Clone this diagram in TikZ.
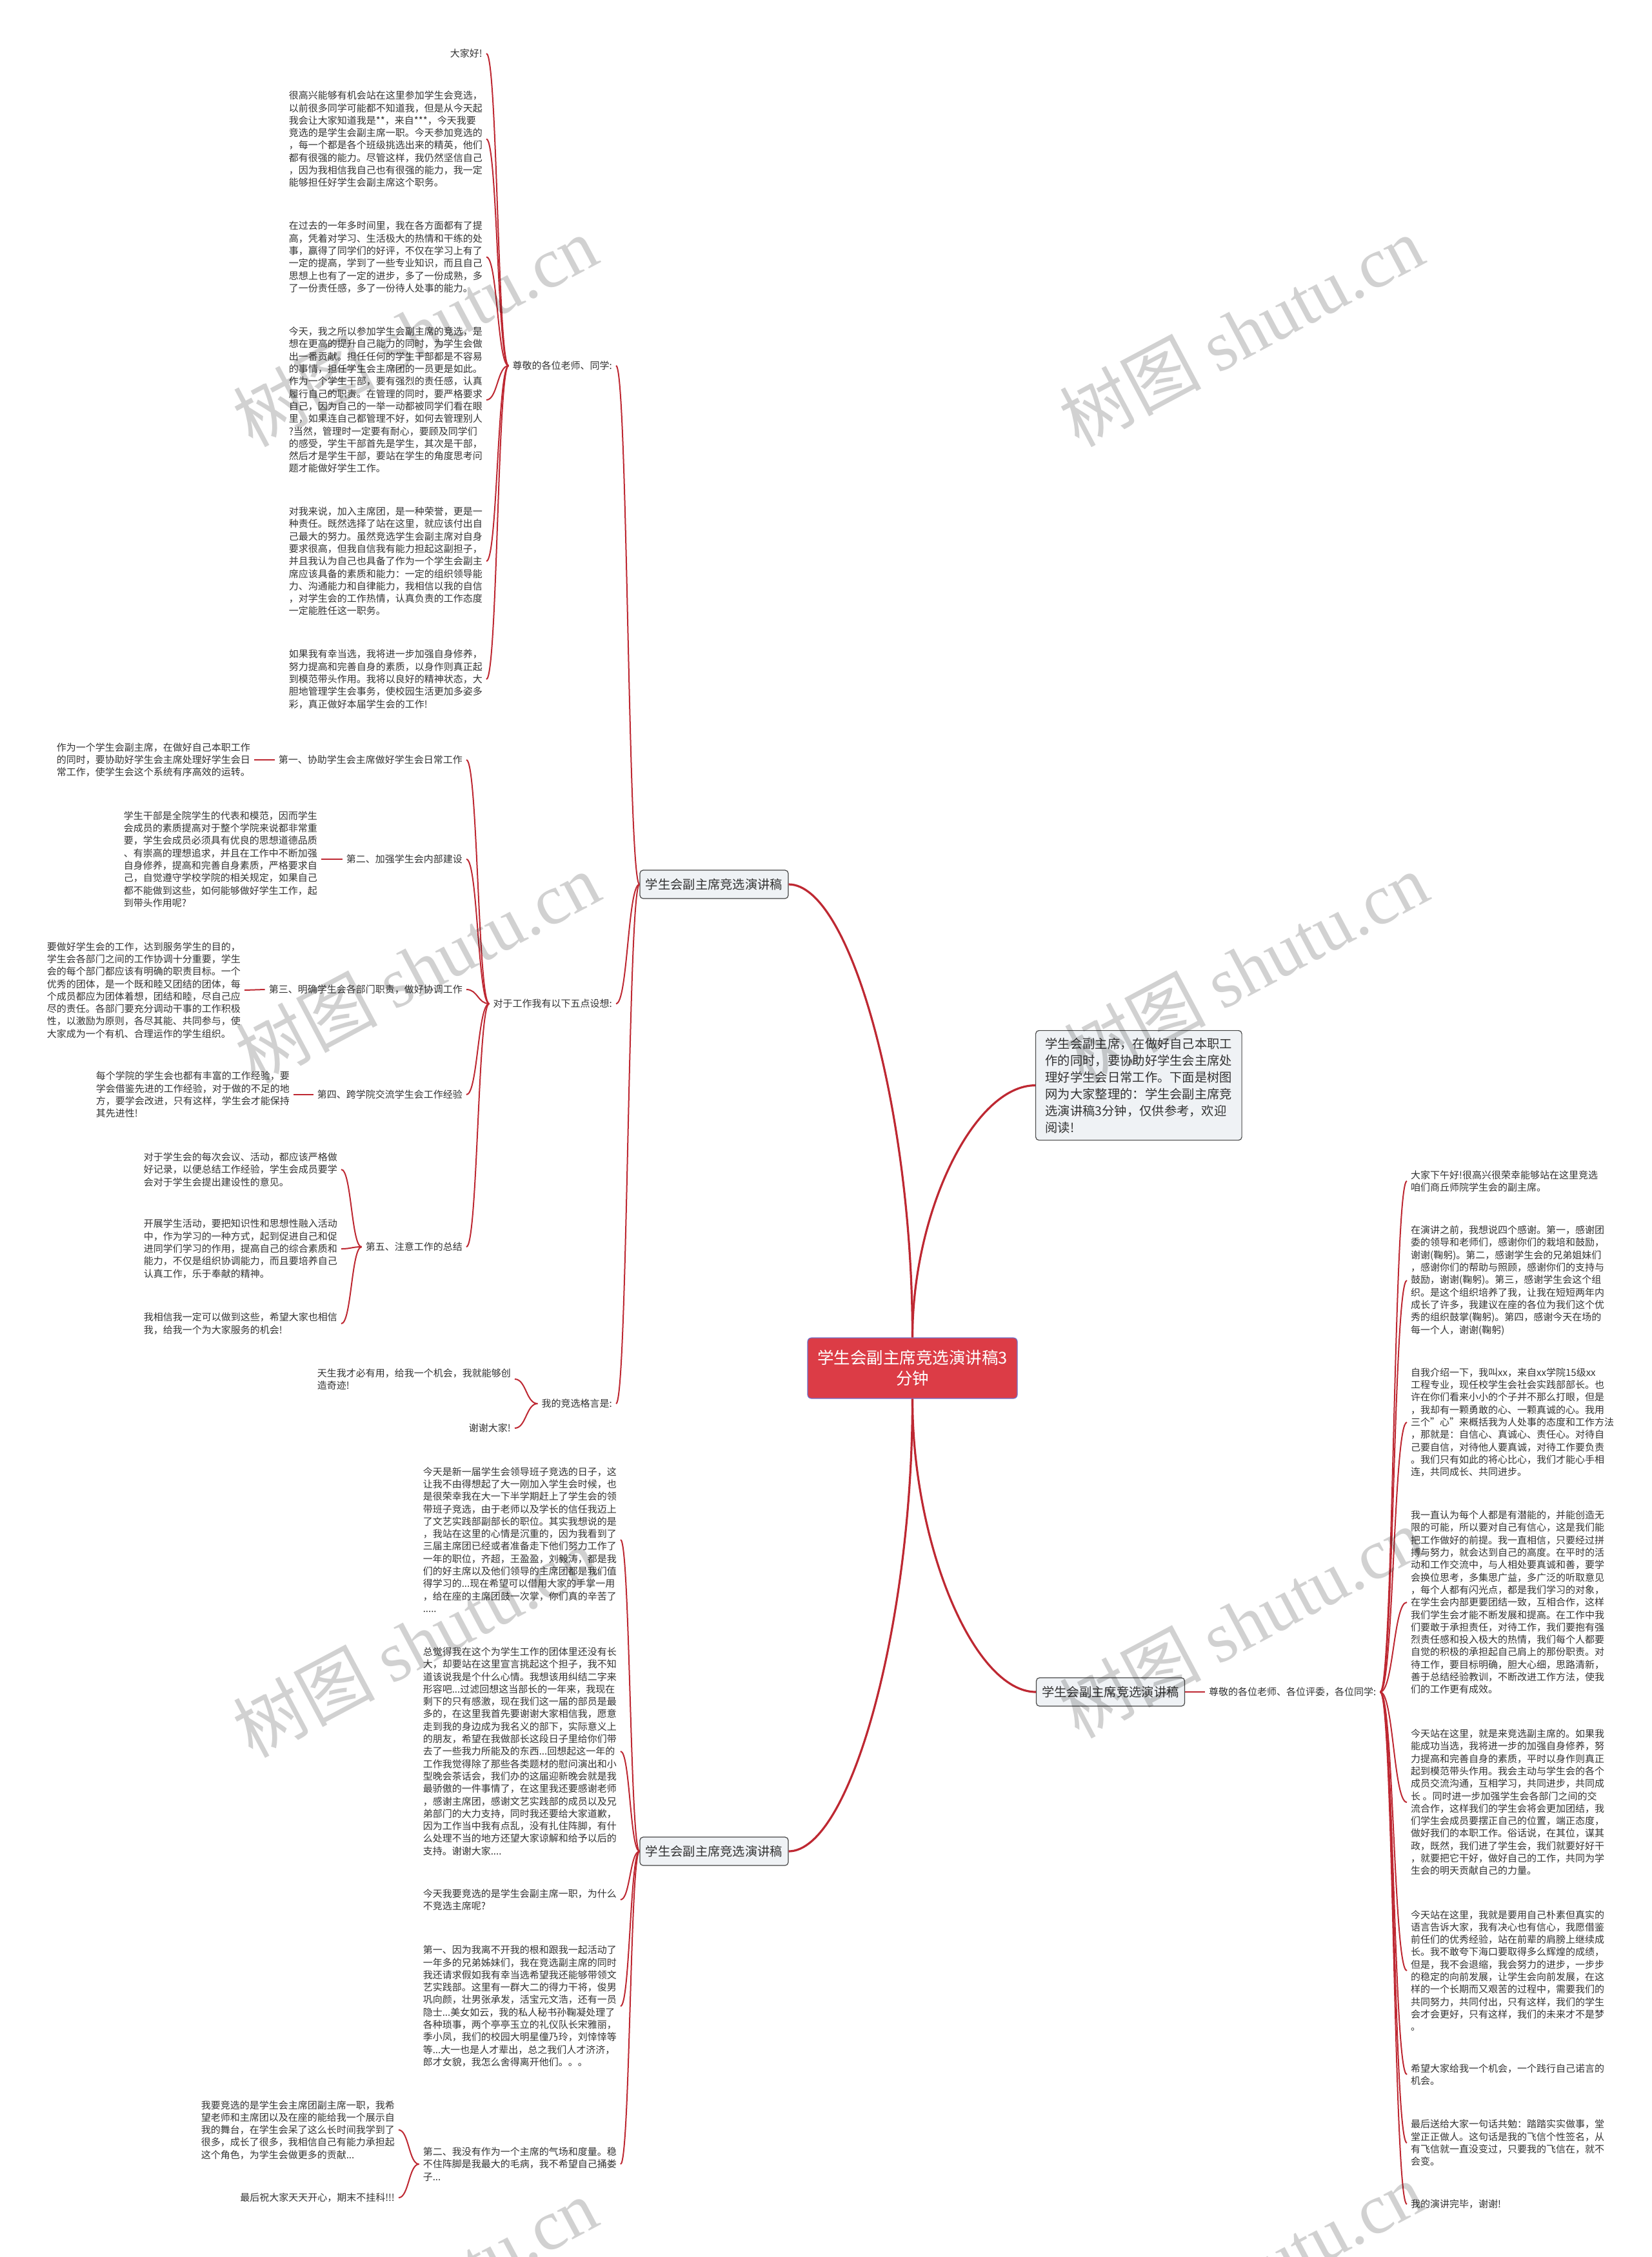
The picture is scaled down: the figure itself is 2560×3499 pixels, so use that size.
\documentclass[tikz,border=0pt]{standalone}
\usepackage{fontspec}
\setmainfont{Noto Sans CJK SC}
\newfontfamily\wmserif{Liberation Serif}
\usetikzlibrary{calc}
\definecolor{ink}{HTML}{333333}
\definecolor{lnk}{HTML}{BE2832}
\definecolor{rootred}{HTML}{DC3C46}
\definecolor{rootrim}{HTML}{6E6EC8}
\definecolor{boxbg}{HTML}{EFF2F5}
\definecolor{boxrim}{HTML}{474747}

\begin{document}
\begin{tikzpicture}[x=1pt, y=-1pt,
  tx/.style={font=\fontsize{15}{19.3}\selectfont, text=ink, align=left, inner xsep=6pt, inner ysep=2pt},
  tl/.style={tx, anchor=east},
  tr/.style={tx, anchor=west},
  bx/.style={draw=boxrim, fill=boxbg, rounded corners=5pt, line width=1.2pt, text=ink},
  br/.style={bx, font=\fontsize{19.3}{24}\selectfont, minimum width=230pt, minimum height=44pt},
  mm/.style={to path={let \p1=(\tikztostart), \p2=(\tikztotarget) in
    .. controls ({(\x1+\x2)/2},\y1) and ({(\x1+\x2)/2},\y2) .. (\tikztotarget)}},
  rt/.style={to path={let \p1=(\tikztostart), \p2=(\tikztotarget) in
    .. controls (\x1,{(\y1+\y2)/2}) and ({(\x1+\x2)/2},\y2) .. (\tikztotarget)}},
  e/.style={draw=lnk, line width=2pt, mm},
  er/.style={draw=lnk, line width=3.2pt, rt},
  wm/.style={font=\fontsize{110}{110}\selectfont, text=black, opacity=0.18, rotate=28}]
\useasboundingbox (0,0) rectangle (2560,3499);
\fill[white] (0,0) rectangle (2560,3499);

% centre
\node[draw=rootrim, fill=rootred, rounded corners=6pt, line width=1.2pt, text=white, align=center,
  font=\fontsize{25.5}{32}\selectfont, minimum width=325pt, minimum height=94pt, inner sep=0pt]
  (root) at (1414.5,2121) {学生会副主席竞选演讲稿3\\分钟};
\node[bx, anchor=north west, align=left, font=\fontsize{19.3}{26}\selectfont, inner xsep=15pt, inner ysep=11pt]
  (intro) at (1605,1597) {学生会副主席，在做好自己本职工\\作的同时，要协助好学生会主席处\\理好学生会日常工作。下面是树图\\网为大家整理的：学生会副主席竞\\选演讲稿3分钟，仅供参考，欢迎\\阅读!};
\node[br] (b1) at (1107,1371) {学生会副主席竞选演讲稿};
\node[br] (b3) at (1107,2870) {学生会副主席竞选演讲稿};
\node[br] (b2) at (1721.5,2623) {学生会副主席竞选演讲稿};

% upper left branch
\node[tl] (p1) at (955,567) {尊敬的各位老师、同学:};
\node[tl] (p2) at (955,1556) {对于工作我有以下五点设想:};
\node[tl] (p3) at (955,2176) {我的竞选格言是:};

\node[tl] (t1) at (754,83) {大家好!};
\node[tl] (t2) at (754,215.5) {很高兴能够有机会站在这里参加学生会竞选，\\以前很多同学可能都不知道我，但是从今天起\\我会让大家知道我是**，来自***，今天我要\\竞选的是学生会副主席一职。今天参加竞选的\\，每一个都是各个班级挑选出来的精英，他们\\都有很强的能力。尽管这样，我仍然坚信自己\\，因为我相信我自己也有很强的能力，我一定\\能够担任好学生会副主席这个职务。};
\node[tl] (t3) at (754,398.5) {在过去的一年多时间里，我在各方面都有了提\\高，凭着对学习、生活极大的热情和干练的处\\事，赢得了同学们的好评，不仅在学习上有了\\一定的提高，学到了一些专业知识，而且自己\\思想上也有了一定的进步，多了一份成熟，多\\了一份责任感，多了一份待人处事的能力。};
\node[tl] (t4) at (754,620) {今天，我之所以参加学生会副主席的竞选，是\\想在更高的提升自己能力的同时，为学生会做\\出一番贡献。担任任何的学生干部都是不容易\\的事情，担任学生会主席团的一员更是如此。\\作为一个学生干部，要有强烈的责任感，认真\\履行自己的职责。在管理的同时，要严格要求\\自己，因为自己的一举一动都被同学们看在眼\\里，如果连自己都管理不好，如何去管理别人\\?当然，管理时一定要有耐心，要顾及同学们\\的感受，学生干部首先是学生，其次是干部，\\然后才是学生干部，要站在学生的角度思考问\\题才能做好学生工作。};
\node[tl] (t5) at (754,870) {对我来说，加入主席团，是一种荣誉，更是一\\种责任。既然选择了站在这里，就应该付出自\\己最大的努力。虽然竞选学生会副主席对自身\\要求很高，但我自信我有能力担起这副担子，\\并且我认为自己也具备了作为一个学生会副主\\席应该具备的素质和能力：一定的组织领导能\\力、沟通能力和自律能力，我相信以我的自信\\，对学生会的工作热情，认真负责的工作态度\\一定能胜任这一职务。};
\node[tl] (t6) at (754,1053) {如果我有幸当选，我将进一步加强自身修养，\\努力提高和完善自身的素质，以身作则真正起\\到模范带头作用。我将以良好的精神状态，大\\胆地管理学生会事务，使校园生活更加多姿多\\彩，真正做好本届学生会的工作!};

\node[tl] (s1) at (723,1178) {第一、协助学生会主席做好学生会日常工作};
\node[tl] (s2) at (723,1332) {第二、加强学生会内部建设};
\node[tl] (s3) at (723,1534) {第三、明确学生会各部门职责，做好协调工作};
\node[tl] (s4) at (723,1697) {第四、跨学院交流学生会工作经验};
\node[tl] (s5) at (723,1933) {第五、注意工作的总结};

\node[tl] (q1) at (394,1178) {作为一个学生会副主席，在做好自己本职工作\\的同时，要协助好学生会主席处理好学生会日\\常工作，使学生会这个系统有序高效的运转。};
\node[tl] (q2) at (498,1332) {学生干部是全院学生的代表和模范，因而学生\\会成员的素质提高对于整个学院来说都非常重\\要，学生会成员必须具有优良的思想道德品质\\、有崇高的理想追求，并且在工作中不断加强\\自身修养，提高和完善自身素质，严格要求自\\己，自觉遵守学校学院的相关规定，如果自己\\都不能做到这些，如何能够做好学生工作，起\\到带头作用呢?};
\node[tl] (q3) at (379,1535) {要做好学生会的工作，达到服务学生的目的，\\学生会各部门之间的工作协调十分重要，学生\\会的每个部门都应该有明确的职责目标。一个\\优秀的团体，是一个既和睦又团结的团体，每\\个成员都应为团体着想，团结和睦，尽自己应\\尽的责任。各部门要充分调动干事的工作积极\\性，以激励为原则，各尽其能、共同参与，使\\大家成为一个有机、合理运作的学生组织。};
\node[tl] (q4) at (455,1697) {每个学院的学生会也都有丰富的工作经验，要\\学会借鉴先进的工作经验，对于做的不足的地\\方，要学会改进，只有这样，学生会才能保持\\其先进性!};
\node[tl] (q5a) at (529,1813) {对于学生会的每次会议、活动，都应该严格做\\好记录，以便总结工作经验，学生会成员要学\\会对于学生会提出建设性的意见。};
\node[tl] (q5b) at (529,1936) {开展学生活动，要把知识性和思想性融入活动\\中，作为学习的一种方式，起到促进自己和促\\进同学们学习的作用，提高自己的综合素质和\\能力，不仅是组织协调能力，而且要培养自己\\认真工作，乐于奉献的精神。};
\node[tl] (q5c) at (529,2052) {我相信我一定可以做到这些，希望大家也相信\\我，给我一个为大家服务的机会!};

\node[tl] (g1) at (798,2138) {天生我才必有用，给我一个机会，我就能够创\\造奇迹!};
\node[tl] (g2) at (798,2214) {谢谢大家!};

% lower left branch
\node[tl] (l1) at (962,2387) {今天是新一届学生会领导班子竞选的日子，这\\让我不由得想起了大一刚加入学生会时候，也\\是很荣幸我在大一下半学期赶上了学生会的领\\带班子竞选，由于老师以及学长的信任我迈上\\了文艺实践部副部长的职位。其实我想说的是\\，我站在这里的心情是沉重的，因为我看到了\\三届主席团已经或者准备走下他们努力工作了\\一年的职位，齐超，王盈盈，刘毅涛，都是我\\们的好主席以及他们领导的主席团都是我们值\\得学习的...现在希望可以借用大家的手掌一用\\，给在座的主席团鼓一次掌，你们真的辛苦了\\.....};
\node[tl] (l2) at (962,2715) {总觉得我在这个为学生工作的团体里还没有长\\大，却要站在这里宣言挑起这个担子，我不知\\道该说我是个什么心情。我想该用纠结二字来\\形容吧...过滤回想这当部长的一年来，我现在\\剩下的只有感激，现在我们这一届的部员是最\\多的，在这里我首先要谢谢大家相信我，愿意\\走到我的身边成为我名义的部下，实际意义上\\的朋友，希望在我做部长这段日子里给你们带\\去了一些我力所能及的东西...回想起这一年的\\工作我觉得除了那些各类题材的慰问演出和小\\型晚会茶话会，我们办的这届迎新晚会就是我\\最骄傲的一件事情了，在这里我还要感谢老师\\，感谢主席团，感谢文艺实践部的成员以及兄\\弟部门的大力支持，同时我还要给大家道歉，\\因为工作当中我有点乱，没有扎住阵脚，有什\\么处理不当的地方还望大家谅解和给予以后的\\支持。谢谢大家....};
\node[tl] (l3) at (962,2945) {今天我要竞选的是学生会副主席一职，为什么\\不竞选主席呢?};
\node[tl] (l4) at (962,3110) {第一、因为我离不开我的根和跟我一起活动了\\一年多的兄弟姊妹们，我在竞选副主席的同时\\我还请求假如我有幸当选希望我还能够带领文\\艺实践部。这里有一群大二的得力干将，俊男\\巩向颜，壮男张承发，活宝元文浩，还有一员\\隐士...美女如云，我的私人秘书孙鞠凝处理了\\各种琐事，两个亭亭玉立的礼仪队长宋雅丽，\\季小凤，我们的校园大明星僮乃玲，刘悻悻等\\等...大一也是人才辈出，总之我们人才济济，\\郎才女貌，我怎么舍得离开他们。。。};
\node[tl] (l5) at (962,3355) {第二、我没有作为一个主席的气场和度量。稳\\不住阵脚是我最大的毛病，我不希望自己捅娄\\子...};
\node[tl] (l6) at (618,3302) {我要竞选的是学生会主席团副主席一职，我希\\望老师和主席团以及在座的能给我一个展示自\\我的舞台，在学生会呆了这么长时间我学到了\\很多，成长了很多，我相信自己有能力承担起\\这个角色，为学生会做更多的贡献...};
\node[tl] (l7) at (618,3407) {最后祝大家天天开心，期末不挂科!!!};

% right branch
\node[tr] (r0) at (1868,2623) {尊敬的各位老师、各位评委，各位同学:};
\node[tr] (r1) at (2181,1831) {大家下午好!很高兴很荣幸能够站在这里竞选\\咱们商丘师院学生会的副主席。};
\node[tr] (r2) at (2181,1985) {在演讲之前，我想说四个感谢。第一，感谢团\\委的领导和老师们，感谢你们的栽培和鼓励，\\谢谢(鞠躬)。第二，感谢学生会的兄弟姐妹们\\，感谢你们的帮助与照顾，感谢你们的支持与\\鼓励，谢谢(鞠躬)。第三，感谢学生会这个组\\织。是这个组织培养了我，让我在短短两年内\\成长了许多，我建议在座的各位为我们这个优\\秀的组织鼓掌(鞠躬)。第四，感谢今天在场的\\每一个人，谢谢(鞠躬)};
\node[tr] (r3) at (2181,2205) {自我介绍一下，我叫xx，来自xx学院15级xx\\工程专业，现任校学生会社会实践部部长。也\\许在你们看来小小的个子并不那么打眼，但是\\，我却有一颗勇敢的心、一颗真诚的心。我用\\三个"心"来概括我为人处事的态度和工作方法\\，那就是：自信心、真诚心、责任心。对待自\\己要自信，对待他人要真诚，对待工作要负责\\。我们只有如此的将心比心，我们才能心手相\\连，共同成长、共同进步。};
\node[tr] (r4) at (2181,2484) {我一直认为每个人都是有潜能的，并能创造无\\限的可能，所以要对自己有信心，这是我们能\\把工作做好的前提。我一直相信，只要经过拼\\搏与努力，就会达到自己的高度。在平时的活\\动和工作交流中，与人相处要真诚和善，要学\\会换位思考，多集思广益，多广泛的听取意见\\，每个人都有闪光点，都是我们学习的对象，\\在学生会内部更要团结一致，互相合作，这样\\我们学生会才能不断发展和提高。在工作中我\\们要敢于承担责任，对待工作，我们要抱有强\\烈责任感和投入极大的热情，我们每个人都要\\自觉的积极的承担起自己肩上的那份职责。对\\待工作，要目标明确，胆大心细，思路清新，\\善于总结经验教训，不断改进工作方法，使我\\们的工作更有成效。};
\node[tr] (r5) at (2181,2794) {今天站在这里，就是来竞选副主席的。如果我\\能成功当选，我将进一步的加强自身修养，努\\力提高和完善自身的素质，平时以身作则真正\\起到模范带头作用。我会主动与学生会的各个\\成员交流沟通，互相学习，共同进步，共同成\\长 。同时进一步加强学生会各部门之间的交\\流合作，这样我们的学生会将会更加团结，我\\们学生会成员要摆正自己的位置，端正态度，\\做好我们的本职工作。俗话说，在其位，谋其\\政，既然，我们进了学生会，我们就要好好干\\，就要把它干好，做好自己的工作，共同为学\\生会的明天贡献自己的力量。};
\node[tr] (r6) at (2181,3055) {今天站在这里，我就是要用自己朴素但真实的\\语言告诉大家，我有决心也有信心，我愿借鉴\\前任们的优秀经验，站在前辈的肩膀上继续成\\长。我不敢夸下海口要取得多么辉煌的成绩，\\但是，我不会退缩，我会努力的进步，一步步\\的稳定的向前发展，让学生会向前发展，在这\\样的一个长期而又艰苦的过程中，需要我们的\\共同努力，共同付出，只有这样，我们的学生\\会才会更好，只有这样，我们的未来才不是梦\\。};
\node[tr] (r7) at (2181,3216) {希望大家给我一个机会，一个践行自己诺言的\\机会。};
\node[tr] (r8) at (2181,3322) {最后送给大家一句话共勉：踏踏实实做事，堂\\堂正正做人。这句话是我的飞信个性签名，从\\有飞信就一直没变过，只要我的飞信在，就不\\会变。};
\node[tr] (r9) at (2181,3417) {我的演讲完毕，谢谢!};

% connectors
\draw[er] (root.north) to (b1.east);
\draw[er] (root.north) to (intro.west);
\draw[er] (root.south) to (b3.east);
\draw[er] (root.south) to (b2.west);

\foreach \nd in {p1,p2,p3} \draw[e] (b1.west) to (\nd.east);
\foreach \i in {1,...,6} \draw[e] (p1.west) to (t\i.east);
\foreach \i in {1,...,5} \draw[e] (p2.west) to (s\i.east);
\foreach \i in {1,...,4} \draw[e] (s\i.west) to (q\i.east);
\foreach \nd in {q5a,q5b,q5c} \draw[e] (s5.west) to (\nd.east);
\foreach \nd in {g1,g2} \draw[e] (p3.west) to (\nd.east);
\foreach \i in {1,...,5} \draw[e] (b3.west) to (l\i.east);
\foreach \nd in {l6,l7} \draw[e] (l5.west) to (\nd.east);
\draw[e] (b2.east) to (r0.west);
\foreach \i in {1,...,9} \draw[e] (r0.east) to (r\i.west);

% watermark
\foreach \wx/\wy [count=\k] in {643/513, 1924/513, 647/1500, 1931/1500, 643/2545, 1924/2515, 643/3555, 1924/3530}
  \node[wm] (wm\k) at (\wx,\wy) {树图 {\wmserif shutu.cn}};
\end{tikzpicture}
\end{document}
